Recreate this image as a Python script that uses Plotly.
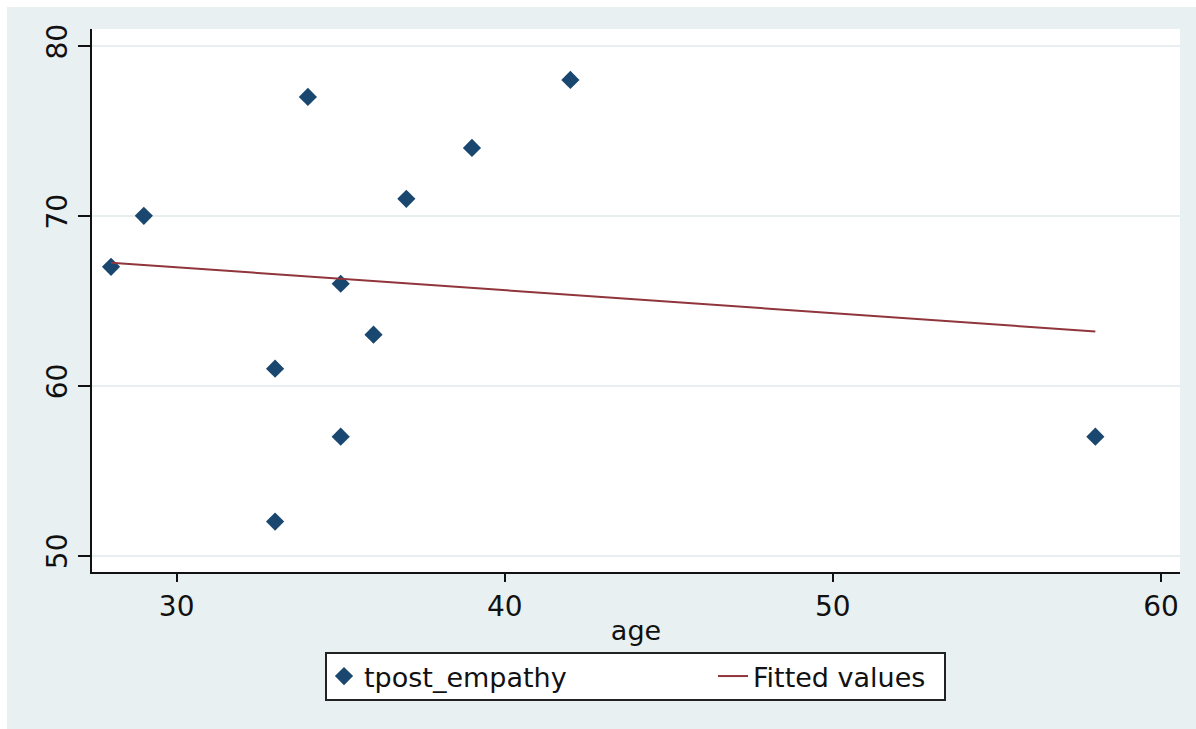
import plotly.graph_objects as go

# Data
age = [28, 29, 33, 33, 34, 35, 35, 36, 37, 39, 42, 58]
tpost_empathy = [67, 70, 61, 52, 77, 66, 57, 63, 71, 74, 78, 57]
fit_x = [28, 58]
fit_y = [67.24, 63.19]

x_ticks = [30, 40, 50, 60]
y_ticks = [50, 60, 70, 80]

W, H = 1196, 729
L, T = 92, 29
PLOT_R, PLOT_B = 1180, 572
R, B = W - PLOT_R, H - PLOT_B
pw, ph = PLOT_R - L, PLOT_B - T

BG = "#e8f0f2"
FONT = "DejaVu Sans, Verdana, sans-serif"
TXT = "#111111"


def px_x(p):
    return (p - L) / pw


def px_y(p):
    return (PLOT_B - p) / ph


fig = go.Figure()
fig.add_trace(go.Scatter(
    x=age, y=tpost_empathy, mode="markers", name="tpost_empathy",
    marker=dict(symbol="diamond", size=14, color="#1a476f"),
    legend="legend",
))
fig.add_trace(go.Scatter(
    x=fit_x, y=fit_y, mode="lines", name="Fitted values",
    line=dict(color="#90353b", width=2),
    legend="legend2",
))

shapes = [
    # graph region (light bluish) inside a thin white border at top/left
    dict(type="rect", xref="paper", yref="paper", layer="below",
         x0=px_x(7), x1=px_x(W + 4), y0=px_y(H + 4), y1=px_y(7),
         fillcolor=BG, line=dict(width=0)),
    # plot region
    dict(type="rect", xref="paper", yref="paper", layer="below",
         x0=0, x1=1, y0=0, y1=1, fillcolor="white", line=dict(width=0)),
    # legend frame
    dict(type="rect", xref="paper", yref="paper", layer="below",
         x0=px_x(326), x1=px_x(945), y0=px_y(700), y1=px_y(653),
         fillcolor="white", line=dict(color="#222222", width=2)),
]

legend_common = dict(
    orientation="h", yanchor="middle", y=px_y(676.5),
    bgcolor="rgba(0,0,0,0)", borderwidth=0,
    font=dict(family=FONT, size=27, color=TXT),
    xanchor="left",
)

fig.update_layout(
    width=W, height=H,
    margin=dict(l=L, r=R, t=T, b=B, pad=0),
    paper_bgcolor="white", plot_bgcolor="white",
    font=dict(family=FONT, size=27, color=TXT),
    shapes=shapes,
    showlegend=True,
    legend=dict(x=px_x(324), **legend_common),
    legend2=dict(x=px_x(713), **legend_common),
    xaxis=dict(
        range=[27.42, 60.58], tickvals=x_ticks, ticktext=[str(v) for v in x_ticks],
        showgrid=False, zeroline=False,
        showline=True, linecolor=TXT, linewidth=2,
        ticks="outside", ticklen=8, tickwidth=2, tickcolor=TXT,
        tickfont=dict(family=FONT, size=28, color=TXT),
        title=dict(text="age", font=dict(family=FONT, size=27, color=TXT), standoff=0),
    ),
    yaxis=dict(
        range=[49.03, 81.0], tickvals=y_ticks, ticktext=[str(v) for v in y_ticks],
        showgrid=True, gridcolor="#e6eef0", gridwidth=2, zeroline=False,
        showline=True, linecolor=TXT, linewidth=2,
        ticks="outside", ticklen=12, tickwidth=2, tickcolor=TXT,
        tickangle=-90,
        tickfont=dict(family=FONT, size=28, color=TXT),
    ),
)

fig.write_html(
    "out.html",
    config={"displayModeBar": False},
    post_script="document.body.style.margin='0';document.body.style.overflow='hidden';",
)
